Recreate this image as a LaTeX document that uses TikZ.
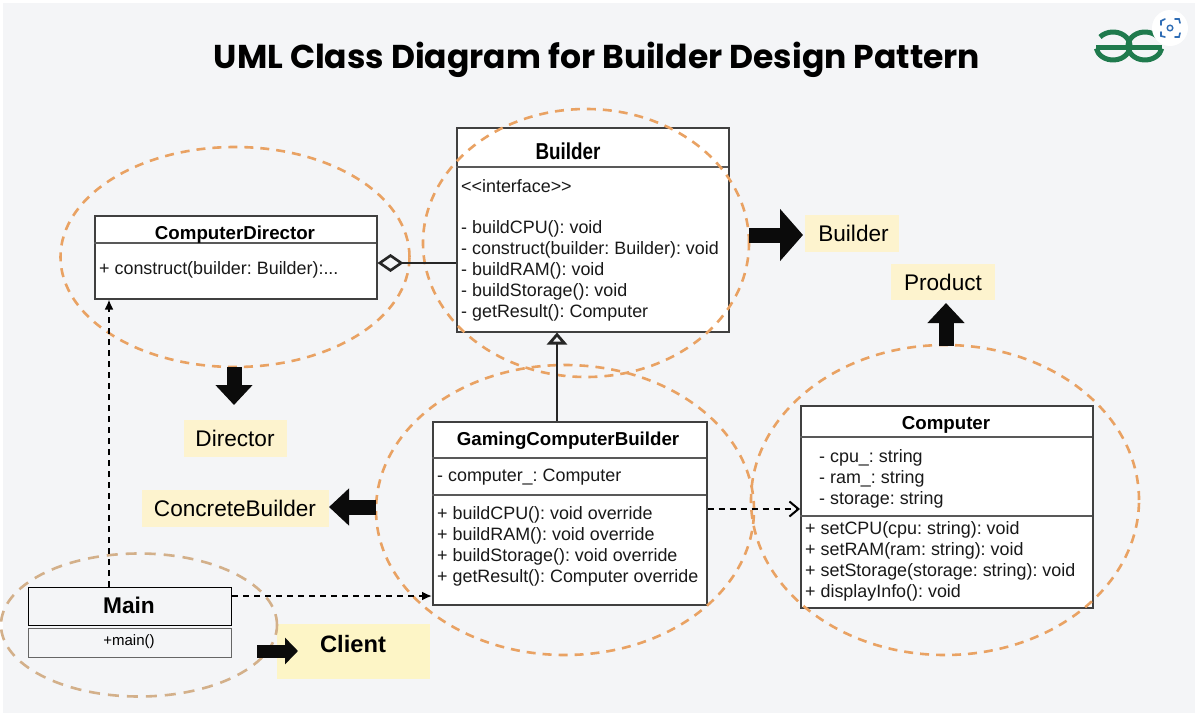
\documentclass[tikz,border=0pt]{standalone}
\usepackage{fontspec}
\setmainfont{Liberation Sans}
\newfontfamily\titlefont{Poppins}
\usetikzlibrary{arrows.meta,calc,shapes.geometric}
\definecolor{pagebg}{HTML}{F4F5F7}
\definecolor{ringorange}{HTML}{E9A263}
\definecolor{ringtan}{HTML}{D3B08A}
\definecolor{tagyellow}{HTML}{FDF3CE}
\definecolor{clientyellow}{HTML}{FDF5C6}
\definecolor{gfg}{HTML}{1F7A4D}
\definecolor{lens}{HTML}{2F6DB5}
\definecolor{arrowink}{HTML}{0B0B0B}
\tikzset{
  x=1pt,y=-1pt,
  classbox/.style={draw=black!75,line width=1.5pt,fill=white,inner sep=0pt,anchor=north west},
  divider/.style={draw=black!65,line width=1.4pt},
  classname/.style={font=\bfseries\fontsize{18.7}{19}\selectfont,inner sep=0pt,yshift=-1.5pt},
  member/.style={font=\frenchspacing\fontsize{17.9}{19}\selectfont,inner sep=0pt,anchor=west,yshift=-1.5pt,text=black!90},
  ring/.style={ellipse,draw=ringorange,line width=2.6pt,dash pattern=on 9pt off 7pt,inner sep=0pt},
  tanring/.style={ellipse,draw=ringtan,line width=2.6pt,dash pattern=on 11pt off 8pt,inner sep=0pt},
  tag/.style={fill=tagyellow,inner sep=0pt,font=\fontsize{22.6}{23}\selectfont},
  blockarrow/.style={line width=15pt,draw=arrowink,-{Triangle[width=36pt,length=20pt]}},
  dep/.style={draw=black,line width=2pt,dash pattern=on 6pt off 5pt},
}
\begin{document}
\begin{tikzpicture}
\useasboundingbox (0,0) rectangle (1199,720);
\fill[white] (0,0) rectangle (1199,720);
\fill[pagebg] (3,3) rectangle (1195,713);
\node[font=\titlefont\bfseries\fontsize{33}{33}\selectfont,inner sep=0pt] (title) at (597,60) {UML Class Diagram for Builder Design Pattern};

% class boxes
\node[classbox,minimum width=272pt,minimum height=204pt] (builder) at (456,127) {};
\node[classbox,minimum width=282pt,minimum height=83pt] (director) at (94,215) {};
\node[classbox,minimum width=274pt,minimum height=183pt] (gaming) at (432,421) {};
\node[classbox,minimum width=292pt,minimum height=202pt] (computer) at (800,405) {};
\node[classbox,draw=black,line width=1.2pt,fill=pagebg,minimum width=203pt,minimum height=38pt] (mainc) at (28,587) {};
\node[classbox,draw=black!60,line width=1pt,fill=pagebg,minimum width=203pt,minimum height=29pt] (mainm) at (28,628) {};

\draw[divider] (456,167) -- (728,167);
\draw[divider] (94,243) -- (376,243);
\draw[divider] (432,458) -- (706,458);
\draw[divider] (432,495) -- (706,495);
\draw[divider] (800,437) -- (1092,437);
\draw[divider] (800,516) -- (1092,516);

% class text
\node[classname,font=\bfseries\fontsize{23}{23}\selectfont,xscale=.82] (bname) at (568,150) {Builder};
\node[member] (b0) at (461,185) {<{}<interface>{}>};
\node[member] (b1) at (461,227) {- buildCPU(): void};
\node[member] (b2) at (461,248) {- construct(builder: Builder): void};
\node[member] (b3) at (461,269) {- buildRAM(): void};
\node[member] (b4) at (461,290) {- buildStorage(): void};
\node[member] (b5) at (461,311) {- getResult(): Computer};

\node[classname] (dname) at (235,233) {ComputerDirector};
\node[member] (d1) at (99,268) {+ construct(builder: Builder):...};

\node[classname] (gname) at (568,439) {GamingComputerBuilder};
\node[member] (g0) at (437,476) {- computer\_: Computer};
\node[member] (g1) at (437,513) {+ buildCPU(): void override};
\node[member] (g2) at (437,534) {+ buildRAM(): void override};
\node[member] (g3) at (437,555) {+ buildStorage(): void override};
\node[member] (g4) at (437,576) {+ getResult(): Computer override};

\node[classname] (cname) at (946,423) {Computer};
\node[member] (c0) at (819,456) {- cpu\_: string};
\node[member] (c1) at (819,477) {- ram\_: string};
\node[member] (c2) at (819,498) {- storage: string};
\node[member] (c3) at (805,528) {+ setCPU(cpu: string): void};
\node[member] (c4) at (805,549) {+ setRAM(ram: string): void};
\node[member] (c5) at (805,570) {+ setStorage(storage: string): void};
\node[member] (c6) at (805,591) {+ displayInfo(): void};

\node[font=\bfseries\fontsize{22.7}{23}\selectfont,inner sep=0pt] (mname) at (129,605) {Main};
\node[font=\fontsize{15}{15}\selectfont,inner sep=0pt] (mmeth) at (129,642) {+main()};

% labels
\node[tag,minimum width=94pt,minimum height=37pt] (tbuilder) at (852,233) {\hspace*{3pt}Builder};
\node[tag,minimum width=104pt,minimum height=36pt] (tproduct) at (943,282) {Product};
\node[tag,minimum width=103pt,minimum height=37pt] (tdirector) at (235,438) {Director};
\node[tag,minimum width=187pt,minimum height=37pt] (tconcrete) at (235,508) {ConcreteBuilder};
\node[fill=clientyellow,inner sep=0pt,minimum width=153pt,minimum height=55pt,anchor=north west] (tclient) at (277,624) {};
\node[font=\bfseries\fontsize{23.7}{24}\selectfont,inner sep=0pt] (tclienttext) at (353,644) {Client};

% dashed rings
\node[ring,minimum width=349pt,minimum height=220pt] (rdirector) at (235,257) {};
\node[ring,minimum width=326pt,minimum height=268pt] (rbuilder) at (586,243) {};
\node[ring,minimum width=378pt,minimum height=290pt] (rgaming) at (565,510) {};
\node[ring,minimum width=388pt,minimum height=310pt] (rcomputer) at (945,500) {};
\node[tanring,minimum width=276pt,minimum height=143pt] (rmain) at (139,625) {};

% block arrows
\coordinate (a1s) at (749,235);
\coordinate (a1e) at (803,235);
\draw[blockarrow,-{Triangle[width=51pt,length=23pt]}] (a1s) -- (a1e);
\coordinate (a2s) at (946,346);
\coordinate (a2e) at (946,303);
\draw[blockarrow] (a2s) -- (a2e);
\coordinate (a3s) at (234,367);
\coordinate (a3e) at (234,405);
\draw[blockarrow] (a3s) -- (a3e);
\coordinate (a4s) at (376,507);
\coordinate (a4e) at (329,507);
\draw[blockarrow] (a4s) -- (a4e);
\coordinate (a5s) at (257,651);
\coordinate (a5e) at (298,651);
\draw[blockarrow,line width=13pt,-{Triangle[width=26pt,length=13pt]}] (a5s) -- (a5e);

% UML connectors
\coordinate (m1) at ([xshift=81pt]mainc.north west);
\draw[dep,-{Latex[length=10pt,width=9pt]}] (m1) -- (m1 |- director.south);
\coordinate (m2) at ([yshift=-9pt]mainc.north east);
\draw[dep,-{Latex[length=10pt,width=9pt]}] (m2) -- (m2 -| gaming.west);
\coordinate (g5) at ([yshift=-88pt]gaming.north east);
\draw[dep,-{Straight Barb[length=9pt,width=15pt]}] (g5) -- (g5 -| computer.west);
\coordinate (g6) at ([xshift=125pt]gaming.north west);
\draw[draw=black!85,line width=2.8pt,-{Triangle[open,fill=pagebg,length=12pt,width=20pt]}] (g6) -- (g6 |- builder.south);
\coordinate (b6) at ([yshift=-136pt]builder.north west);
\draw[draw=black!85,line width=2.6pt,-{Diamond[open,fill=pagebg,length=26pt,width=18pt]}] (b6) -- (b6 -| director.east);

% logo
\draw[gfg,line width=5pt] (1096,47) -- (1162,47);
\draw[gfg,line width=5pt] (1100,37) arc[start angle=140,end angle=-170,x radius=17pt,y radius=14pt];
\draw[gfg,line width=5pt] (1158,37) arc[start angle=40,end angle=350,x radius=17pt,y radius=14pt];
\fill[white] (1170,28) circle[radius=18pt];
\draw[lens,line width=1.4pt] (1170,28) circle[radius=2.8pt];
\draw[lens,line width=1.6pt,line cap=round]
  (1161,25) -- (1161,21) -- (1165,19)
  (1175,19) -- (1179,19) -- (1180,23)
  (1161,32) -- (1161,36) -- (1165,37)
  (1175,37) -- (1179,37) -- (1180,33);
\end{tikzpicture}
\end{document}
